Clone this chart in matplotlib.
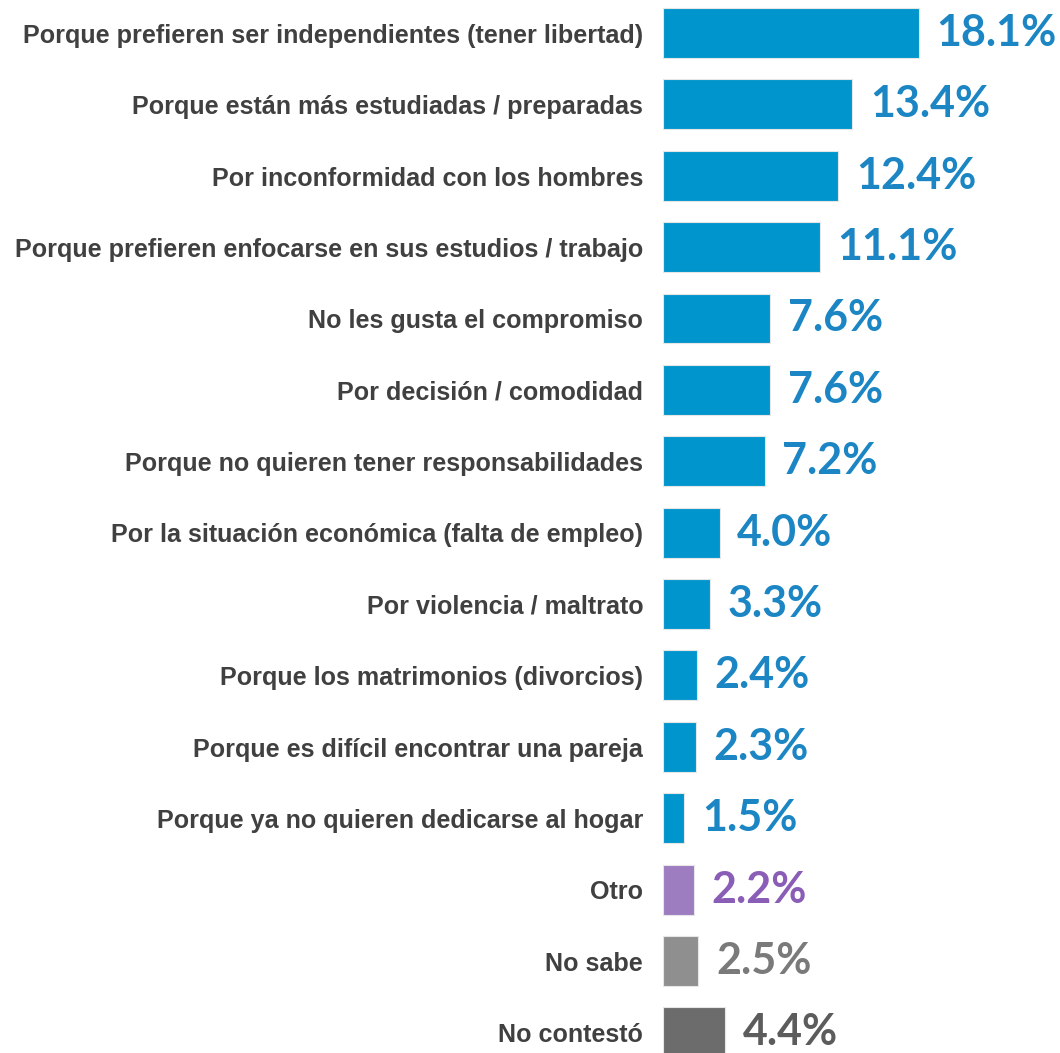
import matplotlib
matplotlib.use('Agg')
import matplotlib.pyplot as plt

# Data
categories = [
    'Porque prefieren ser independientes (tener libertad)',
    'Porque están más estudiadas / preparadas',
    'Por inconformidad con los hombres',
    'Porque prefieren enfocarse en sus estudios / trabajo',
    'No les gusta el compromiso',
    'Por decisión / comodidad',
    'Porque no quieren tener responsabilidades',
    'Por la situación económica (falta de empleo)',
    'Por violencia / maltrato',
    'Porque los matrimonios (divorcios)',
    'Porque es difícil encontrar una pareja',
    'Porque ya no quieren dedicarse al hogar',
    'Otro',
    'No sabe',
    'No contestó',
]
values = [18.1, 13.4, 12.4, 11.1, 7.6, 7.6, 7.2, 4.0, 3.3, 2.4, 2.3, 1.5, 2.2, 2.5, 4.4]

blue_bar, blue_txt = '#0095cd', '#1b86c3'
bar_colors = [blue_bar] * 12 + ['#9d7cc0', '#8f8f8f', '#6c6c6c']
text_colors = [blue_txt] * 12 + ['#8a5db6', '#7a7a7a', '#5c5c5c']

fig = plt.figure(figsize=(10.6, 10.53), dpi=100)
ax = fig.add_axes([663 / 1060, 0, 1 - 663 / 1060, 1])

ypos = list(range(len(values)))
ax.barh(ypos, values, height=0.70, color=bar_colors,
        edgecolor='#e6e6e6', linewidth=0.8)

ax.set_xlim(0, 397 / 14.14)
ax.set_ylim(14.29, -0.462)
ax.axis('off')

# value labels
for y, v, c in zip(ypos, values, text_colors):
    ax.text(v + 1.25, y, f'{v:.1f}%', va='center', ha='left',
            fontsize=31, fontweight='bold', color=c, family='Lato')

# category labels left of the bars
for y, lab in zip(ypos, categories):
    ax.text(-1.4, y + 0.04, lab, va='center', ha='right', fontsize=18.1,
            fontweight='bold', color='#404040', family='Liberation Sans',
            clip_on=False)

fig.savefig('out.png', dpi=100)
